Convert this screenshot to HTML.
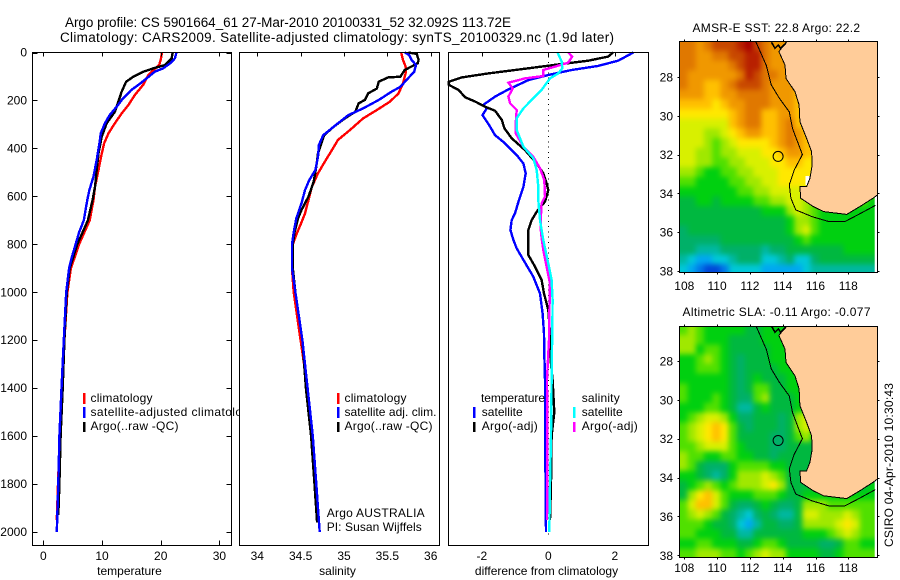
<!DOCTYPE html>
<html>
<head>
<meta charset="utf-8">
<title>Argo profile</title>
<style>
html,body{margin:0;padding:0;background:#fff;}
svg{display:block;font-family:"Liberation Sans",Arial,sans-serif;fill:#000;}
text{font-size:12px;}
.title{font-size:13.5px;}
</style>
</head>
<body>
<svg id="fig" xmlns="http://www.w3.org/2000/svg" width="900" height="580" viewBox="0 0 900 580">
  <defs>
    <filter id="smooth" filterUnits="userSpaceOnUse" x="640" y="0" width="260" height="580" color-interpolation-filters="sRGB">
      <feGaussianBlur stdDeviation="2.6"/>
    </filter>
  </defs>
  <rect x="0" y="0" width="900" height="580" fill="#fff"/>
  <text class="title" x="65" y="27" textLength="446">Argo profile: CS 5901664_61 27-Mar-2010 20100331_52 32.092S 113.72E</text>
  <text class="title" x="60" y="42" textLength="554">Climatology: CARS2009. Satellite-adjusted climatology: synTS_20100329.nc (1.9d later)</text>
  <g id="panels-left"></g>
  <g id="legend-temp">
    <rect x="83" y="393" width="2.5" height="11" fill="#f00"/>
    <text x="90.5" y="402" textLength="62">climatology</text>
    <rect x="83" y="407" width="2.5" height="11" fill="#00f"/>
    <text x="90.5" y="416" textLength="165">satellite-adjusted climatology</text>
    <rect x="83" y="422" width="2.5" height="10" fill="#000"/>
    <text x="90.5" y="430" textLength="88">Argo(..raw -QC)</text>
  </g>
  <g id="panels-right"></g>
  <g id="maps"></g>
  <g id="overlay"></g>
  <text transform="translate(893,547) rotate(-90)" x="0" y="0" textLength="164">CSIRO 04-Apr-2010 10:30:43</text>
</svg>
<script>
// ---------- profile data (depth in dbar, value in axis units) ----------
const tempClimDepth = [0,25,52,93,135,177,219,254,295,337,379,434,490,560,615,700,800,900,1000,1200,1400,1600,1800,1950];
const tempClimValue = [20.2,20.05,19.75,17.9,17.0,15.6,14.5,13.35,12.2,11.1,10.35,9.85,9.4,8.8,8.55,7.9,6.1,4.7,4.1,3.6,3.15,2.8,2.5,2.3];
const tempSatDepth = [0,25,45,66,80,108,135,156,191,226,260,295,337,379,448,517,573,615,700,750,800,850,900,1000,1200,1400,1600,1800,2000];
const tempSatValue = [22.7,22.4,21.6,20.45,19.0,17.6,16.2,15.0,13.6,12.5,11.35,10.5,9.8,9.55,9.1,8.55,7.85,7.5,6.9,6.1,5.5,4.9,4.4,3.9,3.5,3.1,2.75,2.55,2.3];
const tempArgoDepth = [0,25,52,66,80,101,122,163,205,247,295,351,421,490,560,615,700,800,900,1000,1200,1400,1600,1800,1930];
const tempArgoValue = [22.05,21.85,20.75,18.75,17.05,15.35,14.1,13.35,12.8,12.2,10.8,9.95,9.4,9.1,8.8,8.4,7.6,5.8,4.5,4.0,3.6,3.3,2.95,2.75,2.55];

const salClimDepth = [0,31,59,87,129,170,205,240,275,323,365,407,455,504,560,615,671,699,760,800,900,1000,1200,1400,1560];
const salClimValue = [35.66,35.68,35.71,35.71,35.68,35.63,35.53,35.38,35.22,35.07,34.93,34.86,34.78,34.70,34.63,34.59,34.55,34.52,34.45,34.41,34.40,34.42,34.50,34.58,34.62];
const salSatDepth = [0,10,31,52,80,115,143,163,198,233,261,310,345,386,435,490,532,574,629,692,750,800,900,1000,1200,1400,1600,1800,2000];
const salSatValue = [35.70,35.75,35.78,35.83,35.81,35.72,35.65,35.55,35.40,35.22,35.05,34.88,34.76,34.71,34.70,34.67,34.60,34.55,34.51,34.45,34.42,34.40,34.40,34.44,34.52,34.58,34.64,34.68,34.72];
const salArgoDepth = [0,6,31,45,73,101,104,122,150,170,198,212,247,275,310,345,421,476,539,601,657,692,750,800,900,1000,1200,1400,1600,1800,1960];
const salArgoValue = [35.74,35.84,35.86,35.85,35.70,35.65,35.51,35.40,35.38,35.28,35.24,35.17,35.13,35.01,34.88,34.77,34.70,34.68,34.65,34.59,34.51,34.47,34.43,34.41,34.41,34.44,34.52,34.56,34.62,34.66,34.69];

const diffTempSatDepth = [0,34,56,73,94,115,154,184,219,233,261,303,345,379,428,463,504,560,615,671,699,740,782,817,865,935,1005,1088,1172,1255,1366,1600,1800,2000];
const diffTempSatValue = [2.56,2.1,1.5,0.7,0,-0.6,-1.2,-1.6,-1.96,-1.85,-1.98,-1.78,-1.6,-1.3,-0.95,-0.75,-0.68,-0.75,-0.88,-1.0,-1.1,-1.14,-1.05,-0.95,-0.75,-0.45,-0.25,-0.17,-0.13,-0.12,-0.10,-0.10,-0.08,-0.07];
const diffTempArgoDepth = [0,17,34,48,66,87,104,122,135,156,187,205,226,243,281,316,358,407,463,504,546,574,622,664,699,740,845,893,949,1005,1074,1172,1255,1366,1500,1600,1800,1950];
const diffTempArgoValue = [1.95,1.8,1.2,0.4,-0.6,-1.8,-2.6,-2.99,-2.99,-2.7,-2.5,-2.2,-1.9,-1.6,-1.4,-1.32,-1.1,-0.7,-0.35,-0.15,-0.05,0,-0.1,-0.35,-0.5,-0.6,-0.6,-0.4,-0.2,-0.13,0,0.05,0.05,0.13,0.18,0.1,0.08,0.05];
const diffSalSatDepth = [0,38,66,87,108,156,191,233,275,323,393,441,490,560,615,699,782,880,949,1032,1172,1311,1366,1600,1800,2000];
const diffSalSatValue = [0.28,0.4,0.42,0.3,0.05,-0.2,-0.45,-0.75,-0.95,-0.95,-0.75,-0.45,-0.35,-0.3,-0.3,-0.25,-0.15,0,0.1,0.13,0.12,0.1,0.1,0.08,0.05,0.03];
const diffSalArgoDepth = [0,17,42,59,73,98,108,126,150,184,212,240,295,337,393,435,483,532,601,629,699,754,824,893,963,1102,1199,1311,1366,1600,1800,1950];
const diffSalArgoValue = [0.6,0.72,0.6,0.2,-0.15,-0.15,-0.7,-1.2,-1.07,-1.2,-1.15,-0.95,-0.98,-0.98,-0.75,-0.45,-0.25,-0.12,-0.1,-0.2,-0.23,-0.22,-0.15,-0.05,0.05,0.03,0.02,-0.02,-0.04,-0.03,-0.03,-0.04];

// ---------- tick labels ----------
const depthTicks = [0,200,400,600,800,1000,1200,1400,1600,1800,2000];
const tempTicks = [0,10,20,30];
const salTicks = [34,34.5,35,35.5,36];
const diffTicks = [-2,0,2];
const lonTicks = [108,110,112,114,116,118];
const latTicks = [28,30,32,34,36,38];

// ---------- map data: colour-class per 0.5 degree cell; _ = no data / land ----------
const _ = null;
const sstGrid = [
[14,14,13,14,15,15,15,16,17,15,14,13,_,_,_,_,_,_,_,_,_,_,_,_],
[14,14,13,13,14,14,15,15,16,16,14,13,13,_,_,_,_,_,_,_,_,_,_,_],
[14,14,13,13,13,13,14,15,16,16,14,13,13,_,_,_,_,_,_,_,_,_,_,_],
[14,13,13,13,13,13,13,14,16,15,14,14,13,_,_,_,_,_,_,_,_,_,_,_],
[14,13,13,12,12,13,14,15,15,15,14,13,13,13,_,_,_,_,_,_,_,_,_,_],
[13,13,13,12,12,13,13,14,14,14,14,13,13,13,12,_,_,_,_,_,_,_,_,_],
[12,12,12,12,11,12,13,13,14,14,14,13,13,13,12,_,_,_,_,_,_,_,_,_],
[11,11,11,11,11,11,12,13,14,14,12,12,13,13,12,_,_,_,_,_,_,_,_,_],
[10,10,10,10,10,10,12,13,14,14,12,12,13,14,12,12,_,_,_,_,_,_,_,_],
[10,10,10,9,9,10,11,12,13,13,12,12,13,14,13,12,_,_,_,_,_,_,_,_],
[10,10,10,9,8,9,10,11,11,11,11,12,13,14,13,12,_,_,_,_,_,_,_,_],
[10,10,9,9,8,9,9,10,10,10,11,11,12,13,13,12,12,_,_,_,_,_,_,_],
[10,10,9,9,8,8,9,9,10,10,10,11,11,12,12,11,11,_,_,_,_,_,_,_],
[9,9,8,7,7,8,8,9,9,10,10,10,11,11,11,11,11,_,_,_,_,_,_,_],
[8,8,7,7,7,7,8,8,9,9,10,10,11,11,11,_,_,_,_,_,_,_,_,_],
[7,7,7,7,7,7,7,8,8,9,9,10,10,10,10,10,_,_,_,_,_,_,_,_],
[6,6,7,7,6,7,7,7,7,8,8,9,9,10,10,9,8,_,_,_,_,_,_,7],
[6,6,6,6,6,6,6,6,6,6,7,7,7,9,10,9,8,7,_,_,_,7,7,7],
[6,6,6,6,6,6,6,6,6,6,6,6,6,7,9,9,8,7,7,7,7,7,7,7],
[5,6,6,6,6,6,6,6,6,6,6,6,6,7,9,10,8,7,7,7,7,7,7,7],
[5,5,5,5,5,6,6,6,6,6,6,6,6,6,7,8,7,7,7,7,7,7,7,7],
[5,5,4,4,4,5,5,5,5,5,4,5,5,6,6,6,6,6,6,6,7,7,7,7],
[4,3,2,2,3,3,4,5,5,5,3,3,4,5,3,3,5,6,6,6,6,6,6,6],
[3,2,1,0,0,1,3,3,3,3,2,2,2,2,2,3,4,4,4,4,4,4,4,4]
];
const slaGrid = [
[8,9,8,7,7,7,7,7,6,6,7,7,_,_,_,_,_,_,_,_,_,_,_,_],
[9,9,8,7,7,7,6,6,6,6,7,7,7,_,_,_,_,_,_,_,_,_,_,_],
[9,9,7,8,8,7,6,6,6,6,6,7,7,_,_,_,_,_,_,_,_,_,_,_],
[7,7,8,9,8,7,6,5,6,6,6,7,7,_,_,_,_,_,_,_,_,_,_,_],
[7,7,8,8,8,7,6,5,6,6,6,6,7,7,_,_,_,_,_,_,_,_,_,_],
[7,7,7,7,7,7,6,5,6,7,6,6,6,7,7,_,_,_,_,_,_,_,_,_],
[8,7,7,7,7,7,6,5,6,8,8,6,6,7,7,_,_,_,_,_,_,_,_,_],
[8,7,7,7,8,7,6,5,5,8,9,6,6,6,7,7,_,_,_,_,_,_,_,_],
[7,7,7,8,8,7,6,4,4,6,7,6,6,6,7,7,_,_,_,_,_,_,_,_],
[7,8,9,10,10,9,7,5,5,6,6,6,5,6,9,10,_,_,_,_,_,_,_,_],
[8,9,10,11,12,11,8,6,5,6,6,6,5,6,9,10,9,_,_,_,_,_,_,_],
[8,9,10,11,12,11,8,6,6,6,6,5,5,6,8,9,7,_,_,_,_,_,_,_],
[8,8,9,10,10,10,8,7,6,6,6,5,5,6,6,6,6,_,_,_,_,_,_,_],
[9,8,8,7,7,8,8,7,7,6,6,5,6,6,6,6,6,_,_,_,_,_,_,_],
[9,8,6,5,5,5,7,8,8,8,8,7,7,6,6,6,_,_,_,_,_,_,_,_],
[7,7,6,5,4,5,7,9,9,9,10,9,8,6,6,6,_,_,_,_,_,_,_,_],
[6,7,8,9,8,7,8,9,9,9,10,11,9,6,6,6,6,_,_,_,_,_,_,7],
[6,9,11,12,10,8,7,7,7,8,8,8,7,6,6,7,7,7,_,_,_,7,7,7],
[8,10,12,12,10,8,6,5,5,6,7,6,5,5,6,9,9,9,8,8,8,8,8,8],
[8,9,10,9,8,6,5,4,3,5,6,5,4,4,6,10,10,9,9,9,10,9,8,8],
[8,8,8,7,6,6,5,3,2,4,6,6,5,5,6,9,9,9,9,10,11,10,8,8],
[8,8,7,7,7,6,6,4,4,6,6,6,6,6,6,7,7,7,8,9,10,9,8,8],
[7,7,8,8,7,7,7,6,6,7,8,8,7,6,6,6,6,5,5,6,8,8,7,7],
[8,8,9,9,9,8,8,7,8,9,10,9,9,7,7,7,7,6,6,7,8,8,8,8]
];
const colorClasses = ["#0048d8","#0078e8","#00a8f0","#00c8d8","#00b8a0","#00b068","#00b840","#00d010","#50e000","#a0e800","#d8f000","#ffe800","#ffc000","#f09800","#e07800","#c84800","#b82000","#a80000"];
const coastLon = [114.24,113.77,114.14,114.2,114.75,115.0,115.05,115.46,115.76,115.8,115.66,115.46,115.05,115.1,115.87,116.5,117.9,118.7,119.5,119.77];
const coastLat = [26.18,26.69,27.38,28.07,28.76,29.44,30.3,31.16,31.85,32.54,33.22,33.65,33.65,34.25,34.68,34.94,35.08,34.68,34.25,34.08];
const isobathLon = [112.37,113.0,113.3,113.8,114.4,114.6,115.2,114.7,114.4,114.5,114.8,115.8,116.8,117.8,118.6,119.65];
const isobathLat = [26.2,27.4,28.4,29.1,29.8,30.65,32.0,32.8,33.55,34.25,34.85,35.2,35.45,35.45,35.1,34.62];
const islandLon = [113.32,113.53,113.73,113.87,114.2];
const islandLat = [26.21,26.52,26.35,26.52,26.26];
const sstHoleLon = [115.4,115.66];
const sstHoleLat = [33.1,33.57];
const argoLon = 113.72;
const argoLat = 32.092;

// ---------- helpers ----------
const NS = "http://www.w3.org/2000/svg";
const panelsLeft = document.getElementById("panels-left");
const panelsRight = document.getElementById("panels-right");
const mapsG = document.getElementById("maps");
const overlayG = document.getElementById("overlay");
function mk(tag, attrs, parent){
  const el = document.createElementNS(NS, tag);
  for (const k in attrs) el.setAttribute(k, attrs[k]);
  parent.appendChild(el);
  return el;
}
function linear(d0, d1, r0, r1){ return v => r0 + (v - d0) * (r1 - r0) / (d1 - d0); }

// ---------- profile panels ----------
const yDepth = linear(0, 2000, 52.5, 532);
const panelTop = 52.5, panelBottom = 545.5;

function drawSeries(g, xs, depth, value, color, name){
  const pts = value.map((v, i) => xs(v).toFixed(1) + "," + yDepth(depth[i]).toFixed(1)).join(" ");
  const line = mk("polyline", {points: pts, fill: "none", stroke: color, "stroke-width": 2.4, "shape-rendering": "crispEdges"}, g);
  
  
}
function drawPanel(parent, name, left, right, xs, ticks, showDepth, xLabel, xLabelCx, series, dotted){
  const g = mk("g", {}, parent);
  
  
  const bg = mk("rect", {x: left, y: panelTop, width: right - left, height: panelBottom - panelTop, fill: "#fff"}, g);
  
  
  if (dotted){
    const z = mk("line", {x1: xs(0), x2: xs(0), y1: panelTop + 4, y2: 538, stroke: "#000", "stroke-width": 1, "stroke-dasharray": "1 4.3", "shape-rendering": "crispEdges"}, g);
    
    
  }
  series.forEach(s => drawSeries(g, xs, s[0], s[1], s[2], s[3]));
  const frame = mk("rect", {x: left, y: panelTop, width: right - left, height: panelBottom - panelTop, fill: "none", stroke: "#000", "stroke-width": 1, "shape-rendering": "crispEdges"}, g);
  
  
  ticks.forEach(t => {
    const x = Math.round(xs(t)) + 0.5;
    const t1 = mk("line", {x1: x, x2: x, y1: panelTop, y2: panelTop + 4, stroke: "#000", "shape-rendering": "crispEdges"}, g);
    
    
    if (showDepth){
      const t2 = mk("line", {x1: x, x2: x, y1: panelBottom, y2: panelBottom - 5, stroke: "#000", "shape-rendering": "crispEdges"}, g);
      
      
    }
    const lab = mk("text", {x: xs(t), y: 560, "text-anchor": "middle", "font-size": "12"}, g);
    lab.textContent = String(t);
    
    
  });
  const xl = mk("text", {x: xLabelCx, y: 575, "text-anchor": "middle"}, g);
  xl.textContent = xLabel;
  
  
  if (showDepth){
    depthTicks.forEach(d => {
      const y = Math.round(yDepth(d)) + 0.5;
      const a = mk("line", {x1: left, x2: left + 5, y1: y, y2: y, stroke: "#000", "shape-rendering": "crispEdges"}, g);
      
      
      const b = mk("line", {x1: right, x2: right - 5, y1: y, y2: y, stroke: "#000", "shape-rendering": "crispEdges"}, g);
      
      
      const lab = mk("text", {x: 27, y: yDepth(d) + 4, "text-anchor": "end", "font-size": "11.5"}, g);
      lab.textContent = String(d);
      
      
    });
  }
}
const xTemp = linear(0, 30, 43.3, 219.4);
const xSal = linear(34, 36, 257.3, 430.7);
const xDiff = linear(-2, 2, 481.8, 614.8);

// ---------- maps ----------
function drawMap(name, top, bottom, lat28y, lat38y, grid, hole, titleText, titleX, titleY, titleLen, labelY){
  const left = 679.5, right = 877.5, dataRight = 874.7;
  const xLon = linear(108, 118, 684.3, 848.3);
  const yLat = linear(28, 38, lat28y, lat38y);
  const g = mk("g", {}, mapsG);
  
  
  const defs = mk("defs", {}, g);
  const clipId = name + "-clip";
  const clip = mk("clipPath", {id: clipId}, defs);
  mk("rect", {x: left, y: top, width: right - left, height: bottom - top}, clip);
  const dataClipId = name + "-data-clip";
  const dataClip = mk("clipPath", {id: dataClipId}, defs);
  mk("rect", {x: left, y: top, width: dataRight - left, height: bottom - top}, dataClip);

  const clipped = mk("g", {"clip-path": "url(#" + dataClipId + ")"}, g);
  
  
  const cells = mk("g", {filter: "url(#smooth)"}, clipped);
  
  
  const lon0 = 107.7, lat0 = 26.15, step = 0.5, bleed = 12;
  const nRows = grid.length;
  grid.forEach((row, j) => {
    let lastValue = row[0];
    row.forEach((v, i) => {
      if (v !== null) lastValue = v;
      let x0 = xLon(lon0 + i * step), x1 = xLon(lon0 + (i + 1) * step);
      let y0 = yLat(lat0 + j * step), y1 = yLat(lat0 + (j + 1) * step);
      if (i === 0) x0 -= bleed;
      if (i === row.length - 1) x1 += bleed;
      if (j === 0) y0 -= bleed;
      if (j === nRows - 1) y1 += bleed;
      const c = mk("rect", {x: x0.toFixed(2), y: y0.toFixed(2), width: (x1 - x0 + 0.4).toFixed(2), height: (y1 - y0 + 0.4).toFixed(2), fill: colorClasses[lastValue]}, cells);
      
      
    });
  });
  if (hole){
    const h = mk("rect", {x: xLon(hole[0][0]), y: yLat(hole[1][0]), width: xLon(hole[0][1]) - xLon(hole[0][0]), height: yLat(hole[1][1]) - yLat(hole[1][0]), fill: "#fff", "shape-rendering": "crispEdges"}, clipped);
    
    
  }

  const landPts = coastLon.map((lo, i) => xLon(lo).toFixed(1) + "," + yLat(coastLat[i]).toFixed(1));
  landPts.push(xLon(120.2).toFixed(1) + "," + yLat(34.08).toFixed(1));
  landPts.push(xLon(120.2).toFixed(1) + "," + yLat(25.9).toFixed(1));
  landPts.push(xLon(114.24).toFixed(1) + "," + yLat(25.9).toFixed(1));
  const clipG = mk("g", {"clip-path": "url(#" + clipId + ")"}, g);
  
  
  const land = mk("polygon", {points: landPts.join(" "), fill: "#ffcc99", stroke: "none", "shape-rendering": "crispEdges"}, clipG);
  
  
  const coast = mk("polyline", {points: coastLon.map((lo, i) => xLon(lo).toFixed(1) + "," + yLat(coastLat[i]).toFixed(1)).join(" "), fill: "none", stroke: "#000", "stroke-width": 1, "shape-rendering": "crispEdges"}, clipG);
  
  
  const isle = mk("polyline", {points: islandLon.map((lo, i) => xLon(lo).toFixed(1) + "," + yLat(islandLat[i]).toFixed(1)).join(" "), fill: "none", stroke: "#000", "stroke-width": 1.6, "shape-rendering": "crispEdges"}, clipG);
  
  
  const iso = mk("polyline", {points: isobathLon.map((lo, i) => xLon(lo).toFixed(1) + "," + yLat(isobathLat[i]).toFixed(1)).join(" "), fill: "none", stroke: "#000", "stroke-width": 1, "shape-rendering": "crispEdges"}, clipG);
  
  
  const circ = mk("circle", {cx: xLon(argoLon), cy: yLat(argoLat), r: 5, fill: "none", stroke: "#000", "stroke-width": 1}, clipG);
  
  
  const frame = mk("rect", {x: left, y: top, width: right - left, height: bottom - top, fill: "none", stroke: "#000", "shape-rendering": "crispEdges"}, g);
  
  
  lonTicks.forEach(lo => {
    const x = Math.round(xLon(lo)) + 0.5;
    const a = mk("line", {x1: x, x2: x, y1: top - 2, y2: top, stroke: "#000", "shape-rendering": "crispEdges"}, g);
    
    
    const b = mk("line", {x1: x, x2: x, y1: bottom, y2: bottom + 2, stroke: "#000", "shape-rendering": "crispEdges"}, g);
    
    
    const lab = mk("text", {x: xLon(lo), y: labelY, "text-anchor": "middle", "font-size": "12.5"}, g);
    lab.textContent = String(lo);
    
    
  });
  latTicks.forEach(la => {
    const y = Math.round(yLat(la)) + 0.5;
    const a = mk("line", {x1: left - 2, x2: left, y1: y, y2: y, stroke: "#000", "shape-rendering": "crispEdges"}, g);
    
    
    const b = mk("line", {x1: right, x2: right + 2, y1: y, y2: y, stroke: "#000", "shape-rendering": "crispEdges"}, g);
    
    
    const lab = mk("text", {x: 673, y: yLat(la) + 4.5, "text-anchor": "end", "font-size": "12.5"}, g);
    lab.textContent = String(la);
    
    
  });
  const t = mk("text", {x: titleX, y: titleY, textLength: titleLen}, g);
  t.textContent = titleText;
  
  
}

// ---------- legends / annotations for panels 2 and 3 ----------
function legendSwatch(x, y, h, color, name){
  const r = mk("rect", {x: x, y: y, width: 2.5, height: h, fill: color}, overlayG);
  
  
}
function note(x, y, str, name, len){
  const t = mk("text", len ? {x: x, y: y, textLength: len} : {x: x, y: y}, overlayG);
  t.textContent = str;
  
  
}

drawPanel(panelsLeft, "temperature-panel", 32.5, 231.5, xTemp, tempTicks, true, "temperature", 129.5, [
  [tempClimDepth, tempClimValue, "#f00", "temperature-climatology-line"],
  [tempArgoDepth, tempArgoValue, "#000", "temperature-argo-line"],
  [tempSatDepth, tempSatValue, "#00f", "temperature-satellite-line"]
], false);
drawPanel(panelsRight, "salinity-panel", 239.5, 439.5, xSal, salTicks, false, "salinity", 337.5, [
  [salClimDepth, salClimValue, "#f00", "salinity-climatology-line"],
  [salArgoDepth, salArgoValue, "#000", "salinity-argo-line"],
  [salSatDepth, salSatValue, "#00f", "salinity-satellite-line"]
], false);
drawPanel(panelsRight, "difference-panel", 448.5, 648.5, xDiff, diffTicks, false, "difference from climatology", 546.5, [
  [diffTempSatDepth, diffTempSatValue, "#00f", "difference-temperature-satellite-line"],
  [diffTempArgoDepth, diffTempArgoValue, "#000", "difference-temperature-argo-line"],
  [diffSalArgoDepth, diffSalArgoValue, "#f0f", "difference-salinity-argo-line"],
  [diffSalSatDepth, diffSalSatValue, "#0ff", "difference-salinity-satellite-line"]
], true);

drawMap("sst-map", 41.5, 272.5, 77, 271, sstGrid, [sstHoleLon, sstHoleLat], "AMSR-E SST: 22.8 Argo: 22.2", 692.5, 32, 167.5, 290);
drawMap("sla-map", 326.5, 557.5, 361, 555.3, slaGrid, null, "Altimetric SLA: -0.11 Argo: -0.077", 682.5, 316, 188, 572);

// salinity legend
legendSwatch(337, 393, 11, "#f00", "salinity-legend-swatch-climatology");
note(344.5, 402, "climatology", "salinity-legend-label-climatology", 62);
legendSwatch(337, 407, 11, "#00f", "salinity-legend-swatch-satellite");
note(344.5, 416, "satellite adj. clim.", "salinity-legend-label-satellite", 92);
legendSwatch(337, 422, 10, "#000", "salinity-legend-swatch-argo");
note(344.5, 430, "Argo(..raw -QC)", "salinity-legend-label-argo", 88);
note(326.7, 517, "Argo AUSTRALIA", "owner-label", 98);
note(326.7, 531, "PI: Susan Wijffels", "principal-investigator-label", 95);

// difference legend
note(481, 402, "temperature", "difference-legend-heading-temperature", 64);
legendSwatch(473, 407, 11, "#00f", "difference-legend-swatch-temp-satellite");
note(481.7, 416, "satellite", "difference-legend-label-temp-satellite", 41);
legendSwatch(473, 422, 10, "#000", "difference-legend-swatch-temp-argo");
note(481.7, 430, "Argo(-adj)", "difference-legend-label-temp-argo", 56);
note(581.7, 402, "salinity", "difference-legend-heading-salinity", 38);
legendSwatch(573, 407, 11, "#0ff", "difference-legend-swatch-sal-satellite");
note(581.7, 416, "satellite", "difference-legend-label-sal-satellite", 41);
legendSwatch(573, 422, 10, "#f0f", "difference-legend-swatch-sal-argo");
note(581.7, 430, "Argo(-adj)", "difference-legend-label-sal-argo", 56);
</script>
</body>
</html>
